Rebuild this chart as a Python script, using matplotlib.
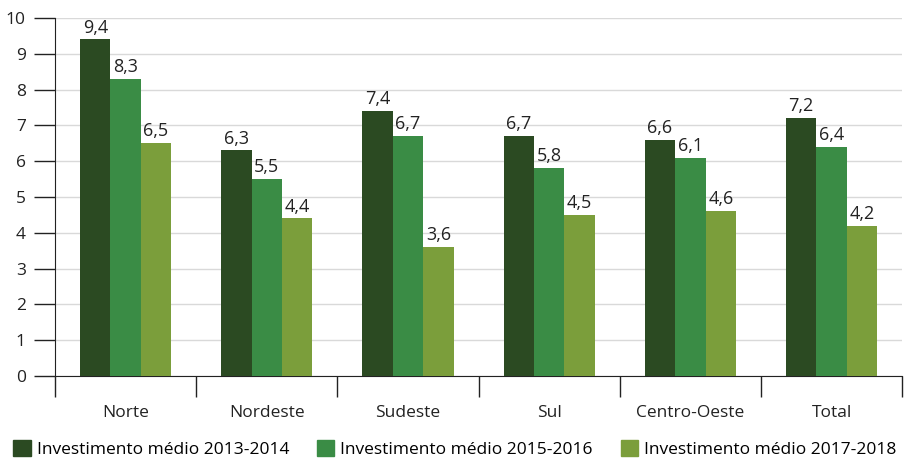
import numpy as np
import matplotlib
matplotlib.use("Agg")
import matplotlib.pyplot as plt
from matplotlib.patches import Patch

regions = ["Norte", "Nordeste", "Sudeste", "Sul", "Centro-Oeste", "Total"]
inv_2013_2014 = [9.4, 6.3, 7.4, 6.7, 6.6, 7.2]
inv_2015_2016 = [8.3, 5.5, 6.7, 5.8, 6.1, 6.4]
inv_2017_2018 = [6.5, 4.4, 3.6, 4.5, 4.6, 4.2]
series_labels = ["Investimento médio 2013-2014",
                 "Investimento médio 2015-2016",
                 "Investimento médio 2017-2018"]

colors = ["#2b4a22", "#3a8c45", "#7b9e3b"]
plt.rcParams["font.family"] = ["Open Sans", "DejaVu Sans"]

fig = plt.figure(figsize=(9.08, 4.59), dpi=100)
ax = fig.add_axes([0.0606, 0.181, 0.933, 0.78])

x = np.arange(len(regions))
w = 0.215
for i, (vals, c) in enumerate(zip([inv_2013_2014, inv_2015_2016, inv_2017_2018], colors)):
    pos = x + (i - 1) * w
    ax.bar(pos, vals, width=w, color=c, zorder=3)
    for p, v in zip(pos, vals):
        ax.text(p, v + 0.08, f"{v:.1f}".replace(".", ","), ha="center", va="bottom",
                fontsize=13, color="#222222")

ax.set_ylim(0, 10)
ax.set_xlim(-0.5, len(regions) - 0.5)
ax.set_yticks(range(0, 11))
ax.tick_params(axis="y", length=15, width=1, labelsize=12.5, colors="#222222", pad=6)
ax.grid(axis="y", color="#d9d9d9", linewidth=1, zorder=0)

# category separators as ticks, labels in the middle
ax.set_xticks(np.arange(-0.5, len(regions), 1))
ax.set_xticklabels([])
ax.tick_params(axis="x", length=15, width=1, colors="#222222")
ax.set_xticks(x, minor=True)
ax.set_xticklabels(regions, minor=True, fontsize=12.5, color="#222222")
ax.tick_params(axis="x", which="minor", length=0, pad=21)

for s in ["top", "right"]:
    ax.spines[s].set_visible(False)
ax.spines["left"].set_color("#222222")
ax.spines["bottom"].set_color("#222222")

handles = [Patch(color=c, label=l) for c, l in zip(colors, series_labels)]
fig.legend(handles=handles, loc="lower left", bbox_to_anchor=(0.003, -0.02), ncol=3,
           frameon=False, fontsize=12.5, handlelength=1.0, handleheight=1.0,
           handletextpad=0.35, columnspacing=1.6, borderaxespad=0.2)

fig.savefig("out.png", dpi=100)
